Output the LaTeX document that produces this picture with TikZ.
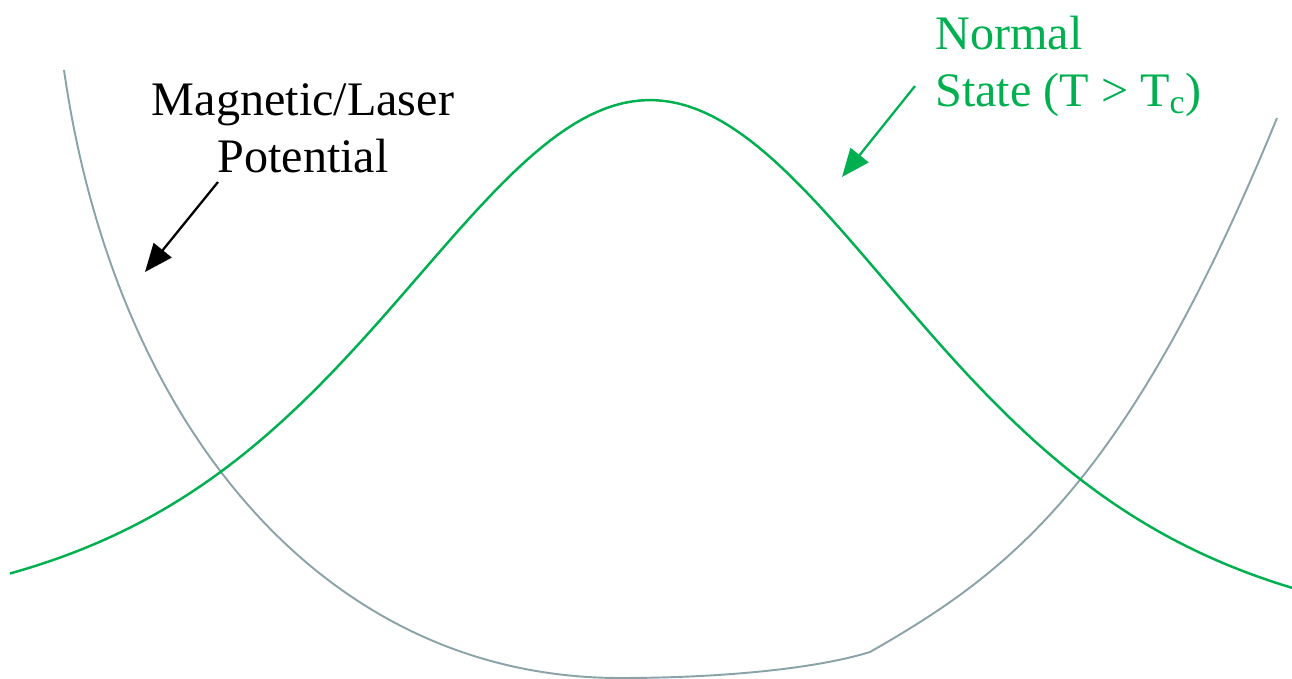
\documentclass[tikz,border=0pt]{standalone}
\usepackage{fontspec}
\setmainfont{Liberation Serif}
\usepackage{xcolor}
\usetikzlibrary{arrows.meta, positioning}

\definecolor{stategreen}{RGB}{0,176,80}
\definecolor{trapgray}{RGB}{139,163,168}

\begin{document}
\begin{tikzpicture}[
    x=0.02cm, y=-0.02cm,
    font=\fontsize{27.4}{33}\selectfont,
    curve/.style={line width=#1},
    pointer/.style={-{Triangle[length=16pt, width=13pt]}, line width=1.3pt},
    label/.style={inner sep=0pt, align=#1},
    declare function={
        tail(\x)=625+20*(\x>650);
        spread(\x)=350+8*(\x>650);
        density(\x)=tail(\x)-(tail(\x)-100)/(cosh((\x-650)/spread(\x)))^2;
    },
]
    \useasboundingbox (0,0) rectangle (1292,679);

    % Trap potential
    \draw[curve=1.1pt, draw=trapgray]
        (64,70) .. controls (114,420) and (320,678) .. (620,678)
        .. controls (720,678) and (815,669) .. (870,652)
        .. controls (1010,572) and (1127,484) .. (1277,118);

    % Normal state density
    \draw[curve=1.4pt, draw=stategreen, domain=10:1292, samples=160]
        plot (\x, {density(\x)});

    % Labels
    \node[label=center, anchor=base] (potlabel) at (303,173)
          {Magnetic/Laser\\Potential};
    \node[label=left, anchor=base west, text=stategreen] (statelabel) at (935,107)
          {Normal\\State (T > T\textsubscript{c})};

    \coordinate (potfrom) at (218,182);
    \coordinate (potto) at (145,272);
    \coordinate (statefrom) at (915,86);
    \coordinate (stateto) at (842,177);

    \draw[pointer] (potfrom) -- (potto);
    \draw[pointer, draw=stategreen, fill=stategreen] (statefrom) -- (stateto);

\end{tikzpicture}
\end{document}
